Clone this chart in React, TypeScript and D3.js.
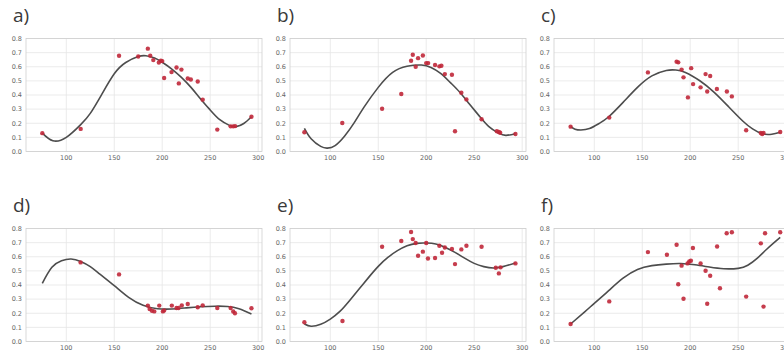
import * as d3 from "d3";

const WIDTH = 784;
const HEIGHT = 351;
const PLOT_W = 236;
const PLOT_H = 113;
const COL_LEFT = [26, 290, 554];
const ROW_TOP = [38.5, 228.5];
const X_DOMAIN: [number, number] = [58, 304];
const Y_DOMAIN: [number, number] = [0, 0.8];

const xTicks = [100, 150, 200, 250, 300];
const yTicks = [0, 0.1, 0.2, 0.3, 0.4, 0.5, 0.6, 0.7, 0.8];
const panelLabels = ["a)", "b)", "c)", "d)", "e)", "f)"];

type P = [number, number];

// measured samples, panel a
const pointsA: P[] = [
  [75, 0.13], [115, 0.16], [155, 0.678], [175, 0.673], [185, 0.728], [187.5, 0.678],
  [190.7, 0.647], [196.5, 0.63], [198.6, 0.643], [200, 0.64], [202, 0.52], [209.7, 0.562],
  [214.9, 0.595], [220, 0.58], [217.3, 0.482], [226.6, 0.517], [229.8, 0.51], [237, 0.496],
  [242.2, 0.367], [257.4, 0.155], [271.3, 0.178], [274, 0.178], [276, 0.18], [293, 0.246],
];
const curveA: P[] = [
  [75, 0.13], [86, 0.076], [100, 0.1], [115, 0.19], [125, 0.27], [137, 0.405],
  [150, 0.55], [162, 0.63], [175, 0.672], [183, 0.678], [192, 0.662], [200, 0.632],
  [210, 0.584], [220, 0.525], [230, 0.454], [240, 0.372], [250, 0.294], [260, 0.225],
  [270, 0.185], [277, 0.176], [285, 0.198], [293, 0.246],
];

const pointsB: P[] = [
  [73, 0.136], [112.5, 0.202], [154, 0.303], [174, 0.407], [184.2, 0.643], [186, 0.685],
  [189, 0.6], [191.5, 0.661], [196.5, 0.68], [200, 0.626], [202, 0.626], [209.2, 0.612],
  [213.7, 0.603], [215.8, 0.607], [219.4, 0.548], [226.8, 0.543], [230, 0.143], [236.6, 0.416],
  [241.9, 0.369], [257.7, 0.228], [273.6, 0.143], [275.7, 0.138], [277.1, 0.133], [293, 0.124],
];
const curveB: P[] = [
  [73, 0.164], [80, 0.09], [90, 0.036], [97, 0.024], [105, 0.042], [115, 0.11],
  [125, 0.204], [135, 0.312], [150, 0.454], [165, 0.56], [180, 0.603], [195, 0.612],
  [205, 0.595], [215, 0.553], [225, 0.489], [235, 0.419], [245, 0.336], [255, 0.254],
  [265, 0.178], [275, 0.132], [283, 0.114], [293, 0.126],
];

const pointsC: P[] = [
  [75.3, 0.176], [115.6, 0.24], [155.9, 0.56], [185.8, 0.636], [187.5, 0.631], [191, 0.58],
  [193, 0.525], [197.6, 0.383], [201, 0.59], [203, 0.477], [210.8, 0.454], [216, 0.548],
  [217.7, 0.425], [220.8, 0.534], [227.8, 0.442], [238.2, 0.425], [243.4, 0.39], [258.3, 0.15],
  [273.6, 0.131], [275, 0.124], [276.4, 0.131], [293.8, 0.138],
];
const curveC: P[] = [
  [75.3, 0.176], [80, 0.158], [86, 0.152], [95, 0.162], [105, 0.198], [115, 0.246],
  [130, 0.348], [145, 0.454], [160, 0.535], [175, 0.574], [185, 0.577], [195, 0.56],
  [210, 0.501], [225, 0.419], [240, 0.317], [255, 0.214], [265, 0.16], [275, 0.126],
  [285, 0.122], [293.8, 0.136],
];

const pointsD: P[] = [
  [114.9, 0.56], [155, 0.475], [185, 0.254], [186.9, 0.23], [189.3, 0.218], [191.7, 0.213],
  [196.9, 0.254], [200.7, 0.213], [202, 0.22], [210, 0.254], [214.9, 0.237], [217, 0.237],
  [220.4, 0.256], [226.6, 0.265], [237, 0.242], [242.2, 0.256], [257.4, 0.237], [271.3, 0.237],
  [274, 0.213], [275.8, 0.2], [293, 0.235],
];
const curveD: P[] = [
  [75, 0.412], [85, 0.525], [95, 0.572], [105, 0.584], [115, 0.567], [125, 0.53],
  [135, 0.477], [150, 0.395], [165, 0.312], [180, 0.256], [195, 0.232], [210, 0.23],
  [225, 0.238], [240, 0.246], [255, 0.25], [268, 0.248], [280, 0.232], [293, 0.195],
];

const pointsE: P[] = [
  [73, 0.136], [112.7, 0.145], [154, 0.671], [174, 0.711], [184.2, 0.775], [186, 0.725],
  [189, 0.697], [191.5, 0.607], [196.5, 0.636], [200, 0.697], [201.8, 0.588], [209.2, 0.591],
  [213.7, 0.678], [216.5, 0.628], [219.4, 0.666], [226.8, 0.655], [230, 0.548], [236.6, 0.652],
  [241.9, 0.678], [257.7, 0.671], [272.5, 0.522], [275.7, 0.482], [277.5, 0.525], [293, 0.553],
];
const curveE: P[] = [
  [73, 0.124], [80, 0.108], [90, 0.122], [100, 0.159], [110, 0.213], [120, 0.289],
  [130, 0.371], [140, 0.454], [150, 0.532], [160, 0.595], [170, 0.643], [180, 0.678],
  [190, 0.695], [200, 0.697], [210, 0.69], [220, 0.666], [230, 0.631], [240, 0.59],
  [250, 0.553], [260, 0.53], [270, 0.52], [280, 0.53], [293, 0.555],
];

const pointsF: P[] = [
  [75.3, 0.124], [115.6, 0.284], [155.9, 0.633], [175.7, 0.614], [185.8, 0.685], [187.5, 0.405],
  [191, 0.537], [193, 0.303], [197.2, 0.553], [199, 0.566], [200.7, 0.572], [202.8, 0.662],
  [210.8, 0.553], [216, 0.501], [217.7, 0.267], [220.8, 0.466], [228, 0.673], [231, 0.377],
  [238, 0.766], [243.4, 0.773], [258.3, 0.318], [273.6, 0.695], [276.4, 0.247], [278, 0.766],
  [293.8, 0.773],
];
const curveF: P[] = [
  [75.3, 0.124], [90, 0.21], [100, 0.27], [115, 0.36], [130, 0.448], [145, 0.51],
  [160, 0.537], [175, 0.548], [190, 0.552], [205, 0.543], [220, 0.527], [235, 0.515],
  [250, 0.518], [260, 0.54], [270, 0.59], [280, 0.655], [293.8, 0.737],
];

const panelPoints = [pointsA, pointsB, pointsC, pointsD, pointsE, pointsF];
const panelCurves = [curveA, curveB, curveC, curveD, curveE, curveF];

function Panel({ left, top, label, points, curve }: { left: number; top: number; label: string; points: P[]; curve: P[] }) {
  const x = d3.scaleLinear().domain(X_DOMAIN).range([left, left + PLOT_W]);
  const y = d3.scaleLinear().domain(Y_DOMAIN).range([top + PLOT_H, top]);
  const line = d3
    .line<P>()
    .x((d) => x(d[0]))
    .y((d) => y(d[1]))
    .curve(d3.curveNatural);

  return (
    <g>
      <rect x={left} y={top} width={PLOT_W} height={PLOT_H} fill="#fff" />
      {yTicks.map((t) => (
        <line key={`h${t}`} x1={left} x2={left + PLOT_W} y1={y(t)} y2={y(t)} stroke="#e6e6e6" strokeWidth={0.8} />
      ))}
      {xTicks.map((t) => (
        <line key={`v${t}`} x1={x(t)} x2={x(t)} y1={top} y2={top + PLOT_H} stroke="#e6e6e6" strokeWidth={0.8} />
      ))}
      <rect x={left} y={top} width={PLOT_W} height={PLOT_H} fill="none" stroke="#cfcfcf" strokeWidth={0.8} />
      {yTicks.map((t) => (
        <text key={`yl${t}`} x={left - 4} y={y(t)} dy="0.35em" textAnchor="end" fontSize={6.5} fill="#666">
          {t.toFixed(1)}
        </text>
      ))}
      {xTicks.map((t) => (
        <text key={`xl${t}`} x={x(t)} y={top + PLOT_H + 8.5} textAnchor="middle" fontSize={6.5} fill="#666">
          {t}
        </text>
      ))}
      <path d={line(curve) ?? ""} fill="none" stroke="#4d4d4d" strokeWidth={1.6} />
      {points.map((d, i) => (
        <circle key={i} cx={x(d[0])} cy={y(d[1])} r={2.2} fill="#c0283a" fillOpacity={0.9} />
      ))}
      <text x={left - 13} y={top - 16.5} fontSize={19} fill="#3a3a3a" fontFamily="'Open Sans', 'DejaVu Sans', sans-serif">
        {label}
      </text>
    </g>
  );
}

export default function App() {
  return (
    <svg
      width={WIDTH}
      height={HEIGHT}
      style={{ position: "absolute", left: 0, top: 0, background: "#fff" }}
      fontFamily="'DejaVu Sans', sans-serif"
    >
      <rect width={WIDTH} height={HEIGHT} fill="#fff" />
      {panelLabels.map((label, i) => (
        <Panel
          key={label}
          left={COL_LEFT[i % 3]}
          top={ROW_TOP[Math.floor(i / 3)]}
          label={label}
          points={panelPoints[i]}
          curve={panelCurves[i]}
        />
      ))}
    </svg>
  );
}
